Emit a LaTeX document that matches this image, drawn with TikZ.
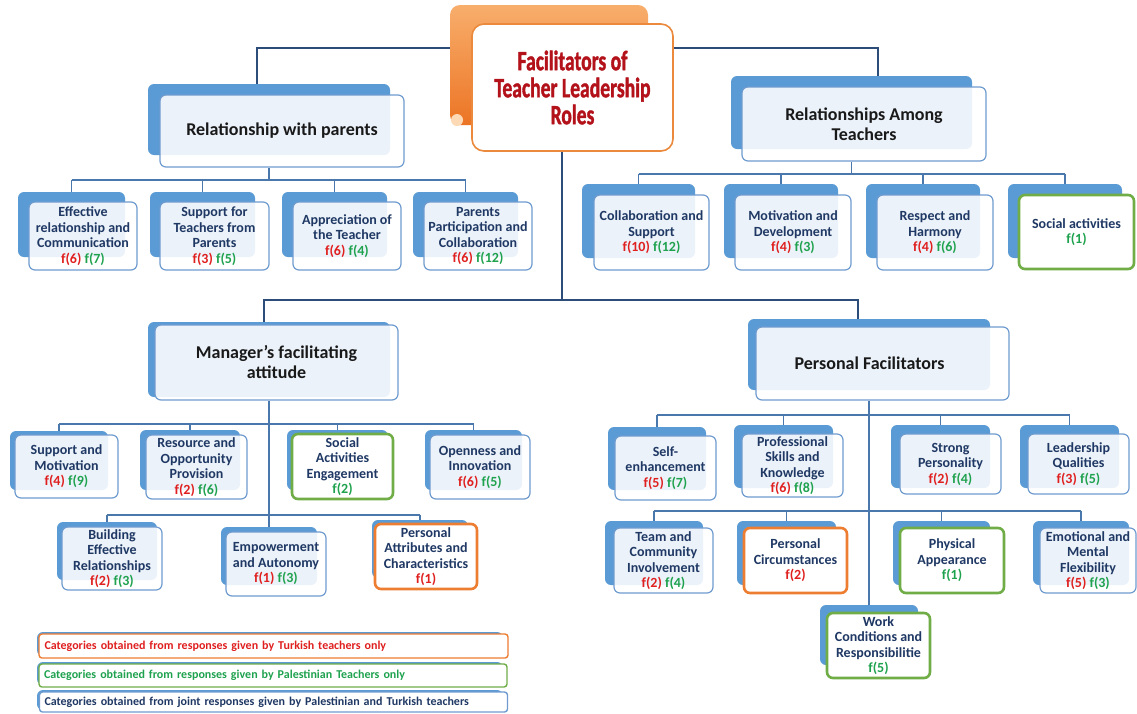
\documentclass[tikz,border=0pt]{standalone}
\usepackage{fontspec}
\setmainfont{Carlito}
\newfontfamily\titlefont[FakeStretch=0.7, BoldFeatures={FakeBold=1.3}]{Carlito}
\definecolor{backblue}{HTML}{5B9BD5}
\definecolor{frontborder}{HTML}{6F9BCF}
\definecolor{navytext}{HTML}{1F3864}
\definecolor{fred}{HTML}{E01F1F}
\definecolor{fgreen}{HTML}{1FA24E}
\definecolor{greenb}{HTML}{70AD47}
\definecolor{orangeb}{HTML}{ED7D31}
\definecolor{topline}{HTML}{2C4D7A}
\definecolor{subline}{HTML}{4A78AD}
\definecolor{titlered}{HTML}{B3121B}
\definecolor{titleborder}{HTML}{EB8A3C}
\definecolor{tlight}{HTML}{F8AE6C}
\definecolor{tdark}{HTML}{EC7424}
\definecolor{tcurl}{HTML}{FDD9B5}
\pgfdeclarelayer{bg}
\pgfsetlayers{bg,main}
\newcommand{\mkback}[5]{\node[backbox, minimum width={#4-#2}, minimum height={#5-#3}] (#1) at ({(#2+#4)/2},{(#3+#5)/2}) {};}
\newcommand{\mkfront}[7]{\node[#6, minimum width={#4-#2}, minimum height={#5-#3}] (#1) at ({(#2+#4)/2},{(#3+#5)/2}) {#7};}
\newcommand{\fR}[1]{\textcolor{fred}{f(#1)}}
\newcommand{\fG}[1]{\textcolor{fgreen}{f(#1)}}
\tikzset{
  backbox/.style={fill=backblue, rounded corners=6pt, inner sep=0pt},
  front/.style={draw=frontborder, line width=1.2pt, fill=white, fill opacity=0.88, text opacity=1,
    rounded corners=6pt, align=center, inner sep=1pt, text=navytext,
    font=\fontsize{14}{15.5}\selectfont\bfseries},
  frontG/.style={front, draw=greenb, line width=2.6pt, fill opacity=1},
  frontO/.style={front, draw=orangeb, line width=2.6pt, fill opacity=1},
  head/.style={front, text=black!90, font=\fontsize{18}{20}\selectfont\bfseries},
  conn1/.style={draw=topline, line width=2pt},
  conn2/.style={draw=subline, line width=1.3pt},
  titleback/.style={rounded corners=10pt, top color=tlight, bottom color=tdark, inner sep=0pt},
  titlefront/.style={draw=titleborder, line width=1.6pt, fill=white, rounded corners=12pt,
    text=titlered, align=center, font=\titlefont\fontsize{28}{27}\selectfont\bfseries},
  legfront/.style={line width=1.4pt, fill=white, rounded corners=3pt, inner xsep=5pt, inner ysep=0pt,
    align=left, text width=458pt, font=\fontsize{12}{13}\selectfont\bfseries},
  legback/.style={fill=backblue, rounded corners=3pt, inner sep=0pt}
}
\begin{document}
\begin{tikzpicture}[x=1pt,y=-1pt]
\useasboundingbox (0,0) rectangle (1137,713);
\begin{pgfonlayer}{bg}
\fill[white] (0,0) rectangle (1137,713);
\end{pgfonlayer}

% ---- title ----
\node[titleback, minimum width=198, minimum height=120] (Tb) at (549,65) {};
\fill[tcurl] (457,120) circle (6pt);
\node[titlefront, minimum width=201, minimum height=127] (T) at (572.5,87.5) {Facilitators of\\Teacher Leadership\\Roles};

% ---- boxes: back layers ----
\mkback{H1b}{148}{84}{390}{155}
\mkback{H2b}{731}{76}{972}{149}
\mkback{H3b}{148}{322}{390}{397}
\mkback{H4b}{748}{319}{990}{390}
\mkback{P1b}{18}{192}{125}{257}
\mkback{P2b}{150}{192}{255}{257}
\mkback{P3b}{282}{192}{387}{257}
\mkback{P4b}{413}{192}{518}{257}
\mkback{T1b}{582}{184}{695}{258}
\mkback{T2b}{724}{184}{838}{258}
\mkback{T3b}{866}{184}{980}{258}
\mkback{T4b}{1008}{184}{1122}{258}
\mkback{M1b}{10}{431}{108}{490}
\mkback{M2b}{140}{430}{240}{490}
\mkback{M3b}{287}{430}{388}{490}
\mkback{M4b}{425}{430}{522}{490}
\mkback{M5b}{57}{522}{157}{580}
\mkback{M6b}{221}{527}{317}{585}
\mkback{M7b}{372}{520}{468}{578}
\mkback{Q1b}{608}{427}{706}{490}
\mkback{Q2b}{734}{425}{833}{488}
\mkback{Q3b}{891}{425}{990}{488}
\mkback{Q4b}{1020}{425}{1119}{488}
\mkback{Q5b}{605}{521}{703}{585}
\mkback{Q6b}{737}{521}{836}{585}
\mkback{Q7b}{893}{521}{990}{585}
\mkback{Q8b}{1033}{521}{1129}{585}
\mkback{Wb}{820}{605}{918}{665}

% ---- front layers ----
\mkfront{H1}{160}{95}{404}{167}{head}{Relationship with parents}
\mkfront{H2}{742}{87}{986}{161}{head}{Relationships Among\\Teachers}
\mkfront{H3}{155}{325}{398}{400}{head}{Manager's facilitating\\attitude}
\mkfront{H4}{756}{327}{1009}{400}{head}{\hspace*{-26pt}Personal Facilitators}

\mkfront{P1}{29}{202}{137}{270}{front}{Effective\\relationship and\\Communication\\\fR{6} \fG{7}}
\mkfront{P2}{160}{202}{269}{270}{front}{Support for\\Teachers from\\Parents\\\fR{3} \fG{5}}
\mkfront{P3}{293}{202}{401}{270}{front}{Appreciation of\\the Teacher\\\fR{6} \fG{4}}
\mkfront{P4}{424}{202}{532}{270}{front}{Parents\\Participation and\\Collaboration\\\fR{6} \fG{12}}

\mkfront{T1}{594}{195}{709}{270}{front}{Collaboration and\\Support\\\fR{10} \fG{12}}
\mkfront{T2}{735}{195}{851}{270}{front}{Motivation and\\Development\\\fR{4} \fG{3}}
\mkfront{T3}{877}{195}{993}{270}{front}{Respect and\\Harmony\\\fR{4} \fG{6}}
\mkfront{T4}{1019}{195}{1134}{269}{frontG}{Social activities\\\fG{1}}

\mkfront{M1}{15}{435}{118}{498}{front}{Support and\\Motivation\\\fR{4} \fG{9}}
\mkfront{M2}{146}{435}{247}{499}{front}{Resource and\\Opportunity\\Provision\\\fR{2} \fG{6}}
\mkfront{M3}{292}{434}{393}{499}{frontG}{Social\\Activities\\Engagement\\\fG{2}}
\mkfront{M4}{430}{435}{530}{499}{front}{Openness and\\Innovation\\\fR{6} \fG{5}}
\mkfront{M5}{62}{527}{162}{590}{front}{Building\\Effective\\Relationships\\\fR{2} \fG{3}}
\mkfront{M6}{226}{532}{326}{596}{front}{Empowerment\\and Autonomy\\\fR{1} \fG{3}}
\mkfront{M7}{375}{524}{477}{589}{frontO}{Personal\\Attributes and\\Characteristics\\\fR{1}}

\mkfront{Q1}{615}{436}{716}{500}{front}{Self-\\enhancement\\\fR{5} \fG{7}}
\mkfront{Q2}{742}{434}{843}{497}{front}{Professional\\Skills and\\Knowledge\\\fR{6} \fG{8}}
\mkfront{Q3}{900}{434}{1001}{494}{front}{Strong\\Personality\\\fR{2} \fG{4}}
\mkfront{Q4}{1028}{434}{1129}{494}{front}{Leadership\\Qualities\\\fR{3} \fG{5}}
\mkfront{Q5}{614}{528}{713}{593}{front}{Team and\\Community\\Involvement\\\fR{2} \fG{4}}
\mkfront{Q6}{744}{528}{847}{593}{frontO}{Personal\\Circumstances\\\fR{2}}
\mkfront{Q7}{900}{528}{1004}{593}{frontG}{Physical\\Appearance\\\fG{1}}
\mkfront{Q8}{1040}{528}{1136}{593}{front}{Emotional and\\Mental\\Flexibility\\\fR{5} \fG{3}}
\mkfront{W}{827}{613}{930}{678}{frontG}{Work\\Conditions and\\Responsibilitie\\\fG{5}}

% ---- legend ----
\mkback{L1b}{37}{632}{503}{656}
\mkfront{L1}{39}{634}{508}{658}{legfront, draw=orangeb, text=fred}{Categories obtained from responses given by Turkish teachers only}
\mkback{L2b}{37}{662}{503}{685}
\mkfront{L2}{39}{664}{507}{687}{legfront, draw=greenb, text=fgreen}{Categories obtained from responses given by Palestinian Teachers only}
\mkback{L3b}{37}{690}{503}{710}
\mkfront{L3}{40}{692}{507}{712}{legfront, draw=frontborder, text=navytext}{Categories obtained from joint responses given by Palestinian and Turkish teachers}

% ---- connectors (behind boxes) ----
\begin{pgfonlayer}{bg}
\draw[conn1] (Tb.west |- 0,48) -| ([xshift=-12]H1b.north);
\draw[conn1] (T.east |- 0,48) -| ([xshift=26]H2b.north);
\draw[conn1] (T.south -| 562,0) -- (562,300);
\draw[conn1] ([xshift=-5]H3b.north) |- (562,300) -| ([xshift=-11]H4b.north);

\draw[conn2] (H1b.center |- H1.south) -- (H1b.center |- 0,180);
\draw[conn2] (P1b.north |- 0,180) -- (P4b.north |- 0,180);
\foreach \n in {P1b,P2b,P3b,P4b} \draw[conn2] (\n.north |- 0,180) -- (\n.north);

\draw[conn2] (H2b.center |- H2.south) -- (H2b.center |- 0,174);
\draw[conn2] (T1b.north |- 0,174) -- (T4b.north |- 0,174);
\foreach \n in {T1b,T2b,T3b,T4b} \draw[conn2] (\n.north |- 0,174) -- (\n.north);

\draw[conn2] (H3b.center |- H3.south) -- (M6b.north);
\draw[conn2] (M1b.north |- 0,424) -- (M4b.north |- 0,424);
\foreach \n in {M1b,M2b,M3b,M4b} \draw[conn2] (\n.north |- 0,424) -- (\n.north);
\draw[conn2] (M5b.north |- 0,515) -- (M7b.north |- 0,515);
\foreach \n in {M5b,M7b} \draw[conn2] (\n.north |- 0,515) -- (\n.north);

\draw[conn2] (H4b.center |- H4.south) -- (Wb.north);
\draw[conn2] (Q1b.north |- 0,415) -- (Q4b.north |- 0,415);
\foreach \n in {Q1b,Q2b,Q3b,Q4b} \draw[conn2] (\n.north |- 0,415) -- (\n.north);
\draw[conn2] (Q5b.north |- 0,511) -- (Q8b.north |- 0,511);
\foreach \n in {Q5b,Q6b,Q7b,Q8b} \draw[conn2] (\n.north |- 0,511) -- (\n.north);
\end{pgfonlayer}
\end{tikzpicture}
\end{document}
